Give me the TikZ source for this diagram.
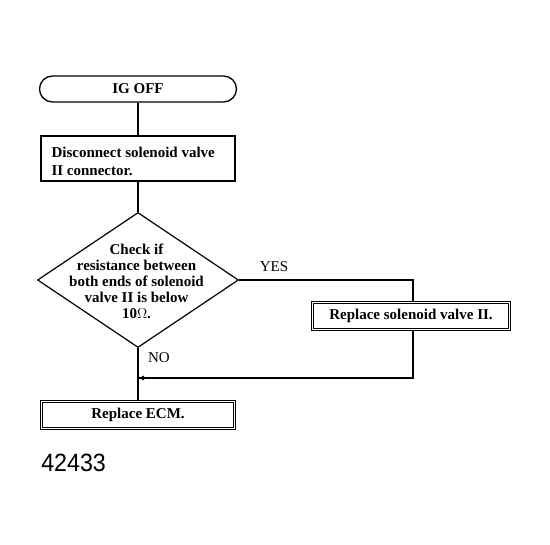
\documentclass[tikz,border=0pt]{standalone}
\usepackage{fontspec}
\setmainfont{Liberation Serif}
\setsansfont{Liberation Sans}
\usetikzlibrary{shapes.geometric,arrows.meta}
\begin{document}
\begin{tikzpicture}[x=1pt,y=-1pt,
  every node/.style={font=\fontsize{15}{18}\selectfont\bfseries},
  ln/.style={line width=1.3pt},
  term/.style={draw,line width=1.3pt,rounded corners=13pt,minimum width=197pt,minimum height=26pt,inner sep=0pt},
  proc/.style={draw,line width=1.3pt,minimum width=194pt,minimum height=45pt,inner sep=0pt},
  dbl/.style={draw,line width=1pt,double,double distance=1.6pt,inner sep=0pt},
  decision/.style={draw,line width=1.2pt,diamond,minimum width=201pt,minimum height=135pt,inner sep=0pt},
  lbl/.style={font=\fontsize{15}{16}\selectfont}]
\useasboundingbox (0,0) rectangle (550,545);
\node[term] (ig) at (138,89) {IG OFF};
\node[proc] (disc) at (138,158.5) {};
\node[align=left,anchor=west] (disct) at (48,161) {Disconnect solenoid valve\\II connector.};
\node[decision] (chk) at (138,280) {};
\node[align=center,font=\fontsize{15}{16}\selectfont\bfseries] (chkt) at (136.5,281) {Check if\\resistance between\\both ends of solenoid\\valve II is below\\10$\Omega$.};
\node[dbl,minimum width=197pt,minimum height=27pt] (sol) at (411,316) {Replace solenoid valve II.};
\node[dbl,minimum width=193pt,minimum height=27pt] (ecm) at (138,415) {Replace ECM.};
\coordinate (yc) at (413,280);
\coordinate (rc) at (413,378);
\coordinate (rl) at (chk.south |- rc);
\draw[ln] (ig.south) -- (disc.north);
\draw[ln] (disc.south) -- (chk.north);
\draw[ln] (chk.east) -- (yc) -- (sol.north -| yc);
\draw[ln] (sol.south -| rc) -- (rc) -- (rl);
\draw[line width=1pt,-{Latex[length=6pt,width=5pt]}] (150,378) -- (rl);
\draw[ln] (chk.south) -- (ecm.north);
\node[lbl] (yes) at (274,267) {YES};
\node[lbl] (no) at (159,358) {NO};
\node[font=\sffamily\fontsize{25}{25}\selectfont,anchor=west,xscale=0.93] (num) at (38,463) {42433};
\end{tikzpicture}
\end{document}
